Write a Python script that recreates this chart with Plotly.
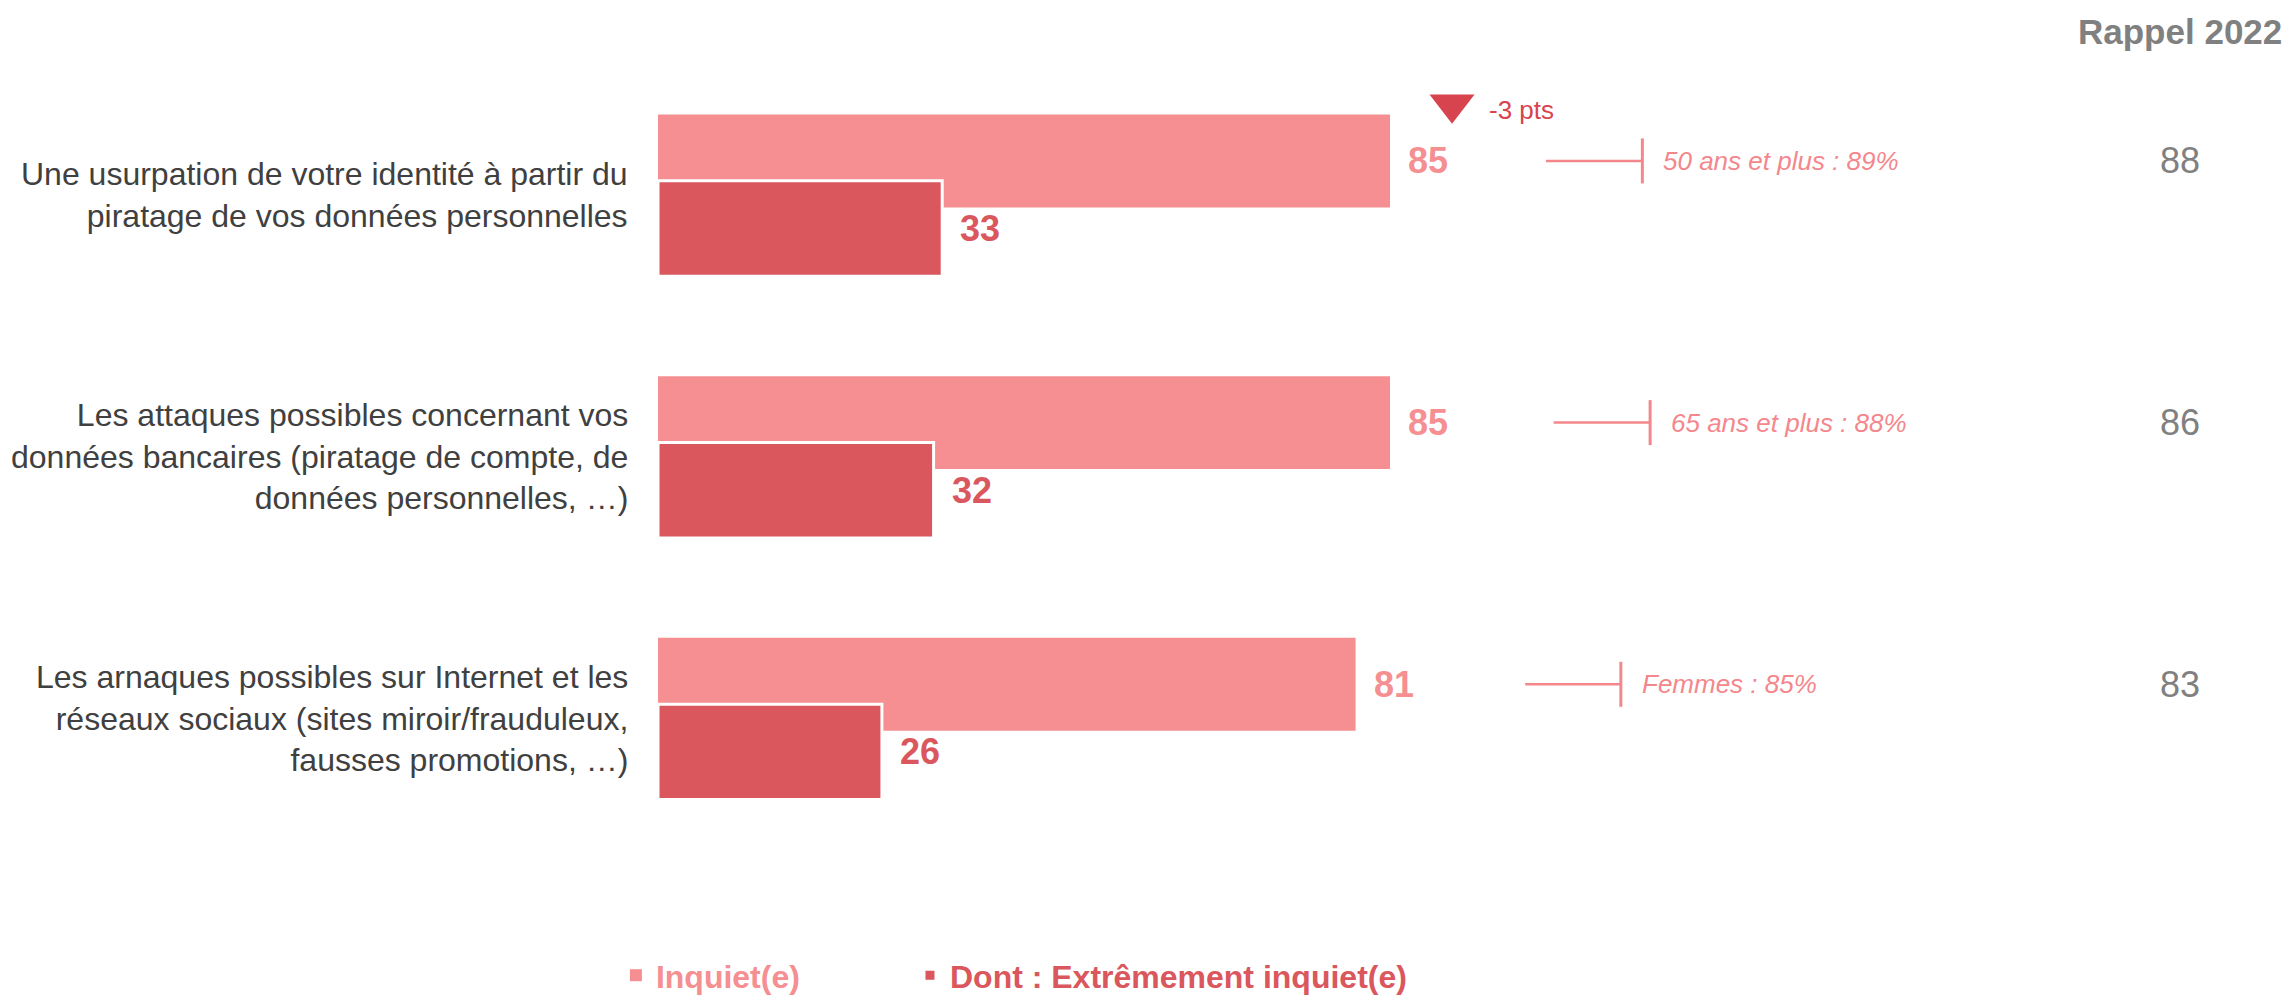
import plotly.graph_objects as go

# ---- data -------------------------------------------------------------
categories = [
    "Une usurpation de votre identité à partir du<br>piratage de vos données personnelles",
    "Les attaques possibles concernant vos<br>données bancaires (piratage de compte, de<br>données personnelles, …)",
    "Les arnaques possibles sur Internet et les<br>réseaux sociaux (sites miroir/frauduleux,<br>fausses promotions, …)",
]
series_names = ["Inquiet(e)", "Dont : Extrêmement inquiet(e)"]
inquiet = [85, 85, 81]
extremement_inquiet = [33, 32, 26]
rappel_2022 = [88, 86, 83]
subgroup_names = ["50 ans et plus", "65 ans et plus", "Femmes"]
subgroup_values = [89, 88, 85]
significant_change = [True, False, False]

# ---- style ------------------------------------------------------------
FONT = "Liberation Sans, Arial, Helvetica, sans-serif"
LIGHT = "#F58F92"
DARK = "#D9575D"
SUB = "#F4878C"
EVOL = "#D7444E"
GREY = "#808080"
TEXT = "#404040"

rows = list(range(len(categories)))

# bar geometry along the category axis (category units)
LIGHT_OFFSET, LIGHT_WIDTH = -0.307, 0.355
DARK_OFFSET, DARK_WIDTH = -0.0534, 0.3645
light_mid = LIGHT_OFFSET + LIGHT_WIDTH / 2
dark_mid = DARK_OFFSET + DARK_WIDTH / 2

# callout brackets and side columns (value-axis units)
callout_start = [103.1, 104.0, 100.7]
callout_end = [114.3, 115.2, 111.8]
RAPPEL_X = 176.7
EVOL_X = 92.2
X_MAX = 189.5

fig = go.Figure()

fig.add_trace(go.Bar(
    y=rows, x=inquiet, orientation="h",
    offset=LIGHT_OFFSET, width=LIGHT_WIDTH,
    marker=dict(color=LIGHT, line=dict(width=0)),
    name=f'<span style="color:{LIGHT}"><b>{series_names[0]}</b></span>',
    legend="legend", hoverinfo="skip",
))
fig.add_trace(go.Bar(
    y=rows, x=extremement_inquiet, orientation="h",
    offset=DARK_OFFSET, width=DARK_WIDTH,
    marker=dict(color=DARK, line=dict(color="white", width=3)),
    name=f'<span style="color:{DARK}"><b>{series_names[1]}</b></span>',
    legend="legend2", hoverinfo="skip",
))

# evolution markers versus the previous wave
evol_rows = [r for r in rows if significant_change[r]]
fig.add_trace(go.Scatter(
    x=[EVOL_X] * len(evol_rows),
    y=[r - 0.346 for r in evol_rows],
    mode="markers",
    marker=dict(symbol="triangle-down", size=39, color=EVOL, line=dict(width=0)),
    showlegend=False, hoverinfo="skip", cliponaxis=False,
))

annotations = []
shapes = []

for r in rows:
    # category label
    annotations.append(dict(
        x=0, y=r, xref="x", yref="y", xanchor="right", yanchor="middle",
        xshift=-28, align="right", showarrow=False, text=categories[r],
        font=dict(family=FONT, size=32, color=TEXT),
    ))
    # value labels
    annotations.append(dict(
        x=inquiet[r], y=r + light_mid, xref="x", yref="y",
        xanchor="left", yanchor="middle", xshift=16, showarrow=False,
        text=f"<b>{inquiet[r]}</b>", font=dict(family=FONT, size=36, color=LIGHT),
    ))
    annotations.append(dict(
        x=extremement_inquiet[r], y=r + dark_mid, xref="x", yref="y",
        xanchor="left", yanchor="middle", xshift=16, showarrow=False,
        text=f"<b>{extremement_inquiet[r]}</b>",
        font=dict(family=FONT, size=36, color=DARK),
    ))
    # sub-group callout
    yc = r + light_mid
    shapes.append(dict(
        type="line", xref="x", yref="y",
        x0=callout_start[r], x1=callout_end[r], y0=yc, y1=yc,
        line=dict(color=SUB, width=2.5),
    ))
    shapes.append(dict(
        type="line", xref="x", yref="y",
        x0=callout_end[r], x1=callout_end[r], y0=yc - 0.086, y1=yc + 0.086,
        line=dict(color=SUB, width=3),
    ))
    annotations.append(dict(
        x=callout_end[r], y=yc, xref="x", yref="y",
        xanchor="left", yanchor="middle", xshift=19, showarrow=False,
        text=f"<i>{subgroup_names[r]} : {subgroup_values[r]}%</i>",
        font=dict(family=FONT, size=26, color=SUB),
    ))
    # previous wave
    annotations.append(dict(
        x=RAPPEL_X, y=yc, xref="x", yref="y",
        xanchor="center", yanchor="middle", showarrow=False,
        text=str(rappel_2022[r]), font=dict(family=FONT, size=36, color=GREY),
    ))
    if significant_change[r]:
        delta = inquiet[r] - rappel_2022[r]
        annotations.append(dict(
            x=EVOL_X, y=r - 0.326, xref="x", yref="y",
            xanchor="left", yanchor="middle", xshift=35, showarrow=False,
            text=f"{delta:+d} pts", font=dict(family=FONT, size=26, color=EVOL),
        ))

annotations.append(dict(
    x=RAPPEL_X, y=1.0413, xref="x", yref="paper",
    xanchor="center", yanchor="middle", showarrow=False,
    text="<b>Rappel 2022</b>", font=dict(family=FONT, size=35, color=GREY),
))

legend_style = dict(
    orientation="h", xanchor="left", y=-0.161, yanchor="middle",
    font=dict(family=FONT, size=32), bgcolor="rgba(0,0,0,0)",
)

fig.update_layout(
    width=2290, height=998,
    margin=dict(l=658, r=0, t=63.5, b=148.5, pad=0, autoexpand=False),
    paper_bgcolor="white", plot_bgcolor="white",
    barmode="overlay",
    xaxis=dict(visible=False, range=[0, X_MAX], fixedrange=True),
    yaxis=dict(visible=False, range=[2.5, -0.5], fixedrange=True),
    showlegend=True,
    legend=dict(x=-0.0258, **legend_style),
    legend2=dict(x=0.1544, **legend_style),
    annotations=annotations,
    shapes=shapes,
)

fig.write_html("out.html")
